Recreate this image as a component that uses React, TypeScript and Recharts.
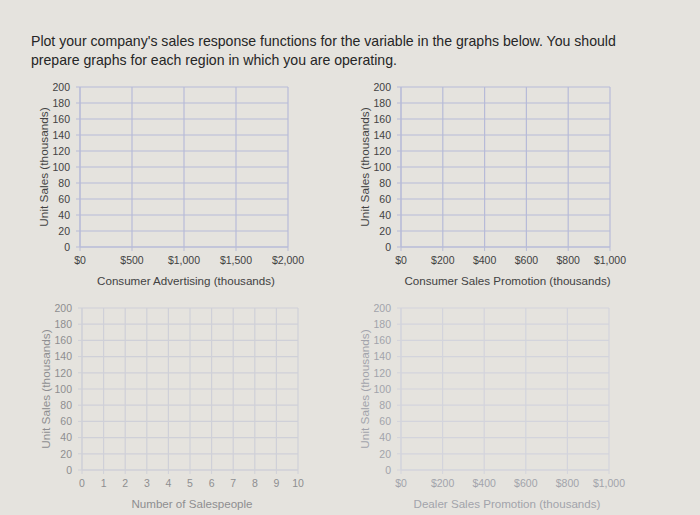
import React from "react";
import { LineChart, Line, XAxis, YAxis, CartesianGrid, Label } from "recharts";

const unitSalesTicks = [0, 20, 40, 60, 80, 100, 120, 140, 160, 180, 200];
const advertisingTicks = [0, 500, 1000, 1500, 2000];
const consumerPromoTicks = [0, 200, 400, 600, 800, 1000];
const salespeopleTicks = [0, 1, 2, 3, 4, 5, 6, 7, 8, 9, 10];
const dealerPromoTicks = [0, 200, 400, 600, 800, 1000];

// the worksheet is blank: no sales values plotted yet
const unitSales: (number | null)[] = [];

const titleLines = [
  "Plot your company's sales response functions for the variable in the graphs below. You should",
  "prepare graphs for each region in which you are operating.",
];

const money = (v: number) => "$" + v.toLocaleString("en-US");
const plain = (v: number) => String(v);

interface PanelProps {
  plotLeft: number;
  plotTop: number;
  plotWidth: number;
  plotHeight: number;
  xTicks: number[];
  xLabel: string;
  xFormat: (v: number) => string;
  grid: string;
  text: string;
}

function Panel({ plotLeft, plotTop, plotWidth, plotHeight, xTicks, xLabel, xFormat, grid, text }: PanelProps) {
  const yW = 60;
  const padTop = 10;
  const padRight = 20;
  const xH = 50;
  const data = xTicks.map((x, i) => ({ x, sales: unitSales[i] ?? null }));
  const font = "'Liberation Sans', Arial, sans-serif";

  return (
    <div style={{ position: "absolute", left: plotLeft - yW, top: plotTop - padTop }}>
      <LineChart
        width={plotWidth + yW + padRight}
        height={plotHeight + padTop + xH}
        data={data}
        margin={{ top: padTop, right: padRight, left: 0, bottom: 0 }}
      >
        <CartesianGrid stroke={grid} strokeWidth={1.2} />
        <XAxis
          type="number"
          dataKey="x"
          domain={[xTicks[0], xTicks[xTicks.length - 1]]}
          allowDataOverflow
          ticks={xTicks}
          interval={0}
          tickFormatter={xFormat}
          height={xH}
          stroke={grid}
          tickSize={4}
          tickMargin={6}
          tick={{ fill: text, fontSize: 10.5, fontFamily: font }}
        >
          <Label
            content={(p: any) => {
              const vb = p.viewBox || {};
              return (
                <text
                  x={vb.x + vb.width / 2 + 2}
                  y={vb.y + 33}
                  textAnchor="middle"
                  dominantBaseline="central"
                  fill={text}
                  fontSize={11.6}
                  fontFamily={font}
                >
                  {xLabel}
                </text>
              );
            }}
          />
        </XAxis>
        <YAxis
          type="number"
          domain={[0, 200]}
          allowDataOverflow
          ticks={unitSalesTicks}
          interval={0}
          width={yW}
          stroke={grid}
          tickSize={4}
          tickMargin={6}
          tick={{ fill: text, fontSize: 10.5, fontFamily: font }}
        >
          <Label
            content={(p: any) => {
              const vb = p.viewBox || {};
              const cx = vb.x + vb.width - 36;
              const cy = vb.y + vb.height / 2;
              return (
                <text
                  x={cx}
                  y={cy}
                  transform={`rotate(-90 ${cx} ${cy})`}
                  textAnchor="middle"
                  dominantBaseline="central"
                  fill={text}
                  fontSize={11.8}
                  fontFamily={font}
                >
                  Unit Sales (thousands)
                </text>
              );
            }}
          />
        </YAxis>
        <Line dataKey="sales" stroke="#1f4e99" dot={false} isAnimationActive={false} connectNulls={false} />
      </LineChart>
    </div>
  );
}

export default function App() {
  return (
    <div
      style={{
        position: "absolute",
        left: 0,
        top: 0,
        width: 700,
        height: 515,
        background: "#e5e3de",
        overflow: "hidden",
        fontFamily: "'Liberation Sans', Arial, sans-serif",
      }}
    >
      <div style={{ position: "absolute", left: 31, top: 32, fontSize: 14.1, lineHeight: "19px", color: "#262626" }}>
        {titleLines.map((t) => (
          <div key={t} style={{ whiteSpace: "nowrap" }}>{t}</div>
        ))}
      </div>
      <Panel
        plotLeft={80}
        plotTop={87}
        plotWidth={208}
        plotHeight={160}
        xTicks={advertisingTicks}
        xLabel="Consumer Advertising (thousands)"
        xFormat={money}
        grid="#b7bbd8"
        text="#424242"
      />
      <Panel
        plotLeft={401}
        plotTop={87}
        plotWidth={209}
        plotHeight={160}
        xTicks={consumerPromoTicks}
        xLabel="Consumer Sales Promotion (thousands)"
        xFormat={money}
        grid="#b7bbd8"
        text="#424242"
      />
      <Panel
        plotLeft={82}
        plotTop={308}
        plotWidth={216}
        plotHeight={162}
        xTicks={salespeopleTicks}
        xLabel="Number of Salespeople"
        xFormat={plain}
        grid="#cfd0d8"
        text="#8e8e90"
      />
      <Panel
        plotLeft={401}
        plotTop={308}
        plotWidth={208}
        plotHeight={162}
        xTicks={dealerPromoTicks}
        xLabel="Dealer Sales Promotion (thousands)"
        xFormat={money}
        grid="#d3d4dc"
        text="#a2a3ab"
      />
    </div>
  );
}
